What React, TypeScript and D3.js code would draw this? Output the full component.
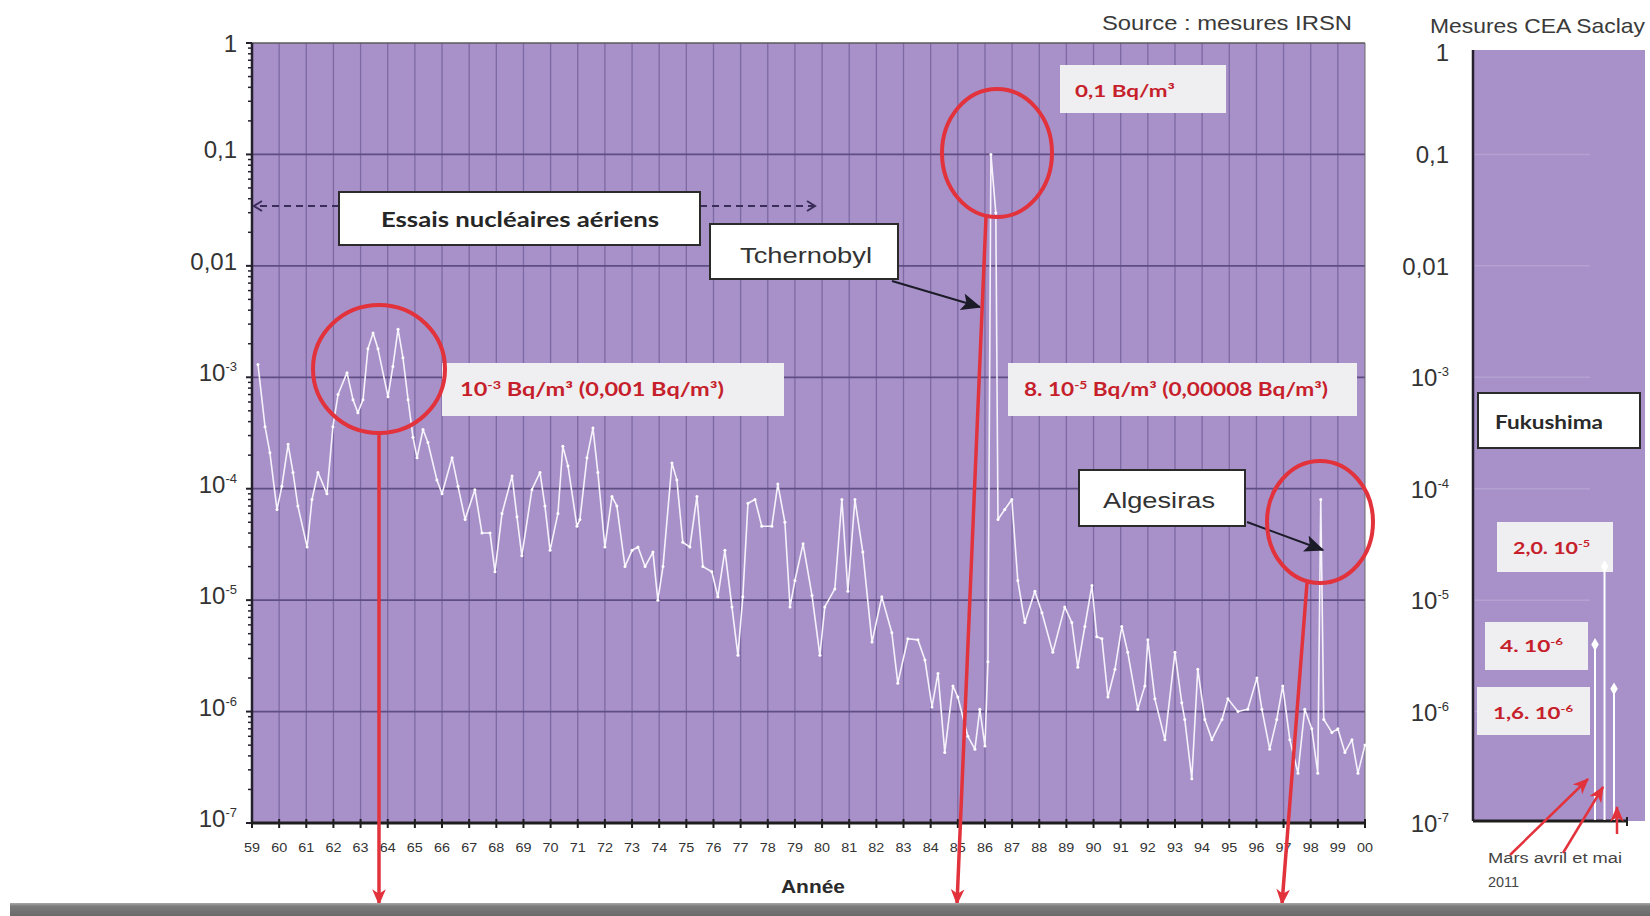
import React from "react";
import * as d3 from "d3";

// IRSN Cs-137 air activity (Bq/m³), turning points of the monthly curve
const irsnYears = [
  1959.22, 1959.48, 1959.66, 1959.92, 1960.1, 1960.33, 1960.51, 1960.69, 1961.03, 1961.21,
  1961.43, 1961.76, 1961.98, 1962.17, 1962.5, 1962.72, 1962.9, 1963.09, 1963.27, 1963.46,
  1963.64, 1964.01, 1964.19, 1964.38, 1964.56, 1964.75, 1964.93, 1965.08, 1965.3, 1965.48,
  1965.81, 1966.0, 1966.37, 1966.59, 1966.85, 1967.21, 1967.47, 1967.77, 1967.95, 1968.21,
  1968.58, 1968.76, 1968.94, 1969.31, 1969.61, 1969.79, 1969.98, 1970.27, 1970.45, 1970.64,
  1970.97, 1971.08, 1971.34, 1971.56, 1971.74, 1972.0, 1972.26, 1972.44, 1972.74, 1973.0,
  1973.22, 1973.48, 1973.77, 1973.95, 1974.14, 1974.47, 1974.65, 1974.87, 1975.13, 1975.39,
  1975.61, 1975.94, 1976.16, 1976.42, 1976.68, 1976.9, 1977.08, 1977.27, 1977.53, 1977.78,
  1978.15, 1978.37, 1978.63, 1978.82, 1979.0, 1979.3, 1979.63, 1979.92, 1980.1, 1980.47,
  1980.73, 1980.95, 1981.21, 1981.5, 1981.84, 1982.2, 1982.57, 1982.79, 1983.16, 1983.53,
  1983.79, 1984.05, 1984.27, 1984.52, 1984.82, 1985.0, 1985.37, 1985.63, 1985.81, 1986.0,
  1986.11, 1986.22, 1986.4, 1986.48, 1986.73, 1986.99, 1987.21, 1987.47, 1987.84, 1988.1,
  1988.5, 1988.94, 1989.2, 1989.42, 1989.68, 1989.94, 1990.12, 1990.31, 1990.53, 1990.79,
  1991.04, 1991.26, 1991.63, 1991.89, 1992.0, 1992.26, 1992.63, 1993.0, 1993.25, 1993.36,
  1993.62, 1993.84, 1994.1, 1994.36, 1994.73, 1994.95, 1995.32, 1995.68, 1996.02, 1996.2,
  1996.49, 1996.75, 1996.97, 1997.23, 1997.53, 1997.78, 1998.04, 1998.26, 1998.37, 1998.48,
  1998.78, 1999.0, 1999.26, 1999.52, 1999.74, 2000.0,
];
const irsnValues = [
  1.3e-3, 3.6e-4, 2.1e-4, 6.5e-5, 1.05e-4, 2.5e-4, 1.4e-4, 7e-5, 3e-5, 8e-5,
  1.4e-4, 9e-5, 3.6e-4, 7e-4, 1.1e-3, 6.3e-4, 4.8e-4, 6.3e-4, 1.8e-3, 2.5e-3,
  1.8e-3, 6.7e-4, 1.25e-3, 2.7e-3, 1.5e-3, 6.3e-4, 2.9e-4, 1.9e-4, 3.4e-4, 2.6e-4,
  1.2e-4, 9e-5, 1.9e-4, 1.05e-4, 5.3e-5, 9.8e-5, 4e-5, 4e-5, 1.8e-5, 6e-5,
  1.3e-4, 5.6e-5, 2.5e-5, 9.8e-5, 1.4e-4, 7e-5, 2.8e-5, 6e-5, 2.4e-4, 1.6e-4,
  4.6e-5, 5.3e-5, 1.9e-4, 3.5e-4, 1.4e-4, 3e-5, 8.5e-5, 7e-5, 2e-5, 2.8e-5,
  3e-5, 2e-5, 2.7e-5, 1e-5, 2e-5, 1.7e-4, 1.2e-4, 3.3e-5, 3e-5, 8.5e-5,
  2e-5, 1.8e-5, 1.07e-5, 2.8e-5, 8.7e-6, 3.2e-6, 1.07e-5, 7.4e-5, 8e-5, 4.6e-5,
  4.6e-5, 1.1e-4, 5e-5, 8.7e-6, 1.5e-5, 3.2e-5, 1.1e-5, 3.2e-6, 8.7e-6, 1.26e-5,
  8e-5, 1.2e-5, 8e-5, 2.7e-5, 4.2e-6, 1.07e-5, 5.1e-6, 1.8e-6, 4.5e-6, 4.4e-6,
  2.9e-6, 1.1e-6, 2.2e-6, 4.3e-7, 1.7e-6, 1.35e-6, 6e-7, 4.6e-7, 1.05e-6, 4.9e-7,
  2.8e-6, 0.1, 0.03, 5.3e-5, 6.5e-5, 8e-5, 1.5e-5, 6.3e-6, 1.2e-5, 7.7e-6,
  3.4e-6, 8.7e-6, 6.3e-6, 2.5e-6, 5.8e-6, 1.35e-5, 4.7e-6, 4.5e-6, 1.35e-6, 2.4e-6,
  5.8e-6, 3.4e-6, 1.05e-6, 1.7e-6, 4.4e-6, 1.3e-6, 5.6e-7, 3.4e-6, 1.2e-6, 8.5e-7,
  2.5e-7, 2.4e-6, 8.5e-7, 5.6e-7, 8.5e-7, 1.3e-6, 1e-6, 1.05e-6, 2e-6, 1.05e-6,
  4.6e-7, 8.5e-7, 1.7e-6, 5.6e-7, 2.8e-7, 1.05e-6, 7e-7, 2.8e-7, 8e-5, 8.5e-7,
  6.5e-7, 7e-7, 4.3e-7, 5.6e-7, 2.8e-7, 5e-7,
];

const yearTicks = d3.range(1959, 2001);
const decadeValues = [1, 0.1, 0.01, 1e-3, 1e-4, 1e-5, 1e-6, 1e-7];
const decadeBases = ["1", "0,1", "0,01", "10", "10", "10", "10", "10"];
const decadeExponents = ["", "", "", "-3", "-4", "-5", "-6", "-7"];

// CEA Saclay, March / April / May 2011 (month number)
const fukushimaMonths = [3, 4, 5];
const fukushimaValues = [4e-6, 2.0e-5, 1.6e-6];

const PURPLE = "#a891c9";
const GRID_H = "#5f4e82";
const GRID_V = "#7d69a3";
const RED = "#e2323c";
const RED_TEXT = "#c61f2b";
const BOX_GREY = "#efeef1";
const INK = "#333333";
const SANS = "'Liberation Sans', Arial, sans-serif";
const CAL = "Lato, 'Open Sans', sans-serif";

export default function App() {
  const X0 = 252, X1 = 1365, YT = 43, YB = 823;
  const x = d3.scaleLinear().domain([1959, 2000]).range([X0, X1]);
  const y = d3.scaleLog().domain([1e-7, 1]).range([YB, YT]);

  const RX0 = 1473, RX1 = 1645, RYT = 50, RYB = 821;
  const xF = d3.scaleLinear().domain([-9.84, 8.26]).range([RX0, RX1]);

  const pts = irsnYears.map((t, i) => [t, irsnValues[i]] as [number, number]);
  const linePath = d3
    .line<[number, number]>()
    .x((d) => x(d[0]))
    .y((d) => y(d[1]))(pts) as string;

  const minorTicks: number[] = [];
  for (let e = -7; e < 0; e++) for (let k = 2; k < 10; k++) minorTicks.push(k * Math.pow(10, e));

  const diamond = d3.symbol().type(d3.symbolDiamond).size(48)() as string;

  const decadeLabel = (i: number, xr: number, yc: number, key: string) => (
    <text key={key} x={xr} y={yc + 8} textAnchor="end" fontFamily={SANS} fontSize={24} fill={INK}>
      {decadeBases[i]}
      {decadeExponents[i] && (
        <tspan fontSize={13} dy={-10}>
          {decadeExponents[i]}
        </tspan>
      )}
    </text>
  );

  return (
    <svg
      width={1650}
      height={916}
      viewBox="0 0 1650 916"
      style={{ position: "absolute", left: 0, top: 0, display: "block", background: "#fff" }}
    >
      <defs>
        <marker id="redHead" viewBox="0 0 14 12" refX={13} refY={6} markerWidth={16} markerHeight={14} markerUnits="userSpaceOnUse" orient="auto">
          <path d="M0,0 L14,6 L0,12 L4,6 Z" fill={RED} />
        </marker>
        <marker id="blackHead" viewBox="0 0 14 12" refX={13} refY={6} markerWidth={20} markerHeight={17} markerUnits="userSpaceOnUse" orient="auto">
          <path d="M0,0 L14,6 L0,12 L3,6 Z" fill="#1c1c28" />
        </marker>
        <marker id="chevron" viewBox="0 0 12 12" refX={10} refY={6} markerWidth={12} markerHeight={12} markerUnits="userSpaceOnUse" orient="auto">
          <path d="M2,1 L10,6 L2,11" fill="none" stroke="#3b2d5a" strokeWidth={2} />
        </marker>
        <linearGradient id="band" x1="0" y1="0" x2="0" y2="1">
          <stop offset="0" stopColor="#a8a8a8" />
          <stop offset="0.25" stopColor="#7a7a7a" />
          <stop offset="1" stopColor="#6a6a6a" />
        </linearGradient>
      </defs>

      {/* ---------- main IRSN panel ---------- */}
      <rect x={X0} y={YT} width={X1 - X0} height={YB - YT} fill={PURPLE} />
      {yearTicks.slice(1, -1).map((t) => (
        <line key={"vg" + t} x1={x(t)} x2={x(t)} y1={YT} y2={YB} stroke={GRID_V} strokeWidth={1.3} />
      ))}
      {decadeValues.slice(1, -1).map((v) => (
        <line key={"hg" + v} x1={X0} x2={X1} y1={y(v)} y2={y(v)} stroke={GRID_H} strokeWidth={1.8} />
      ))}
      <line x1={X0} x2={X1} y1={YT} y2={YT} stroke="#5a5a5a" strokeWidth={1.5} />
      <line x1={X1} x2={X1} y1={YT} y2={YB} stroke="#6a6a6a" strokeWidth={1} />

      {/* measured curve */}
      <path d={linePath} fill="none" stroke="#f6f2fb" strokeWidth={1.6} strokeLinejoin="round" />
      {pts.map((d, i) => (
        <circle key={"p" + i} cx={x(d[0])} cy={y(d[1])} r={1.5} fill="#ffffff" />
      ))}

      {/* axes */}
      <line x1={X0} x2={X0} y1={YT} y2={YB} stroke="#24202e" strokeWidth={2.5} />
      {minorTicks.map((v, i) => (
        <line key={"mt" + i} x1={X0 - 4} x2={X0} y1={y(v)} y2={y(v)} stroke="#24202e" strokeWidth={1.5} />
      ))}
      {decadeValues.map((v) => (
        <line key={"mj" + v} x1={X0 - 6} x2={X0} y1={y(v)} y2={y(v)} stroke="#24202e" strokeWidth={2} />
      ))}
      <line x1={X0} x2={X1} y1={YB} y2={YB} stroke="#1e1e1e" strokeWidth={3} />
      {yearTicks.map((t) => (
        <line key={"xt" + t} x1={x(t)} x2={x(t)} y1={YB - 4} y2={YB + 5} stroke="#1e1e1e" strokeWidth={2} />
      ))}
      {yearTicks.map((t) => (
        <text
          key={"xl" + t}
          x={x(t)}
          y={852}
          textAnchor="middle"
          fontFamily={SANS}
          fontSize={13}
          fill={INK}
          textLength={16}
          lengthAdjust="spacingAndGlyphs"
        >
          {String(t % 100).padStart(2, "0")}
        </text>
      ))}
      {decadeValues.map((v, i) => decadeLabel(i, 237, i === 0 ? 44 : y(v) - 4, "yl" + i))}

      <text x={813} y={893} textAnchor="middle" fontFamily={SANS} fontWeight={700} fontSize={19} fill="#2a2a2a" textLength={64} lengthAdjust="spacingAndGlyphs">
        Année
      </text>

      <text x={1102} y={30} fontFamily={SANS} fontSize={20} fill="#3a3a3a" textLength={250} lengthAdjust="spacingAndGlyphs">
        Source : mesures IRSN
      </text>

      {/* atmospheric tests */}
      <line x1={339} x2={254} y1={206} y2={206} stroke="#3b2d5a" strokeWidth={2.2} strokeDasharray="7,5" markerEnd="url(#chevron)" />
      <line x1={700} x2={815} y1={206} y2={206} stroke="#3b2d5a" strokeWidth={2.2} strokeDasharray="7,5" markerEnd="url(#chevron)" />
      <rect x={339} y={192} width={361} height={53} fill="#ffffff" stroke="#2b2b2b" strokeWidth={2} />
      <text x={381} y={227} fontFamily={CAL} fontWeight={700} fontSize={21} fill="#262626" textLength={278} lengthAdjust="spacingAndGlyphs">
        Essais nucléaires aériens
      </text>

      {/* Tchernobyl */}
      <rect x={710} y={224} width={188} height={55} fill="#ffffff" stroke="#2b2b2b" strokeWidth={2} />
      <text x={740} y={263} fontFamily={SANS} fontSize={22} fill={INK} textLength={132} lengthAdjust="spacingAndGlyphs">
        Tchernobyl
      </text>
      <line x1={892} y1={281} x2={980} y2={307} stroke="#1c1c28" strokeWidth={2} markerEnd="url(#blackHead)" />

      <rect x={1060} y={65} width={166} height={48} fill={BOX_GREY} />
      <text x={1075} y={97} fontFamily={CAL} fontWeight={700} fontSize={17} fill={RED_TEXT} textLength={100} lengthAdjust="spacingAndGlyphs">
        0,1 Bq/m³
      </text>

      {/* value boxes */}
      <rect x={442} y={363} width={342} height={53} fill={BOX_GREY} />
      <text x={460} y={396} fontFamily={CAL} fontWeight={700} fontSize={18} fill={RED_TEXT} textLength={264} lengthAdjust="spacingAndGlyphs">
        10<tspan fontSize={11} dy={-7}>-3</tspan>
        <tspan dy={7}> Bq/m³ (0,001 Bq/m³)</tspan>
      </text>
      <rect x={1008} y={363} width={349} height={53} fill={BOX_GREY} />
      <text x={1024} y={396} fontFamily={CAL} fontWeight={700} fontSize={18} fill={RED_TEXT} textLength={304} lengthAdjust="spacingAndGlyphs">
        8. 10<tspan fontSize={11} dy={-7}>-5</tspan>
        <tspan dy={7}> Bq/m³ (0,00008 Bq/m³)</tspan>
      </text>

      {/* Algesiras */}
      <rect x={1079} y={470} width={166} height={56} fill="#ffffff" stroke="#2b2b2b" strokeWidth={2} />
      <text x={1103} y={508} fontFamily={SANS} fontSize={22} fill={INK} textLength={112} lengthAdjust="spacingAndGlyphs">
        Algesiras
      </text>
      <line x1={1247} y1={522} x2={1323} y2={550} stroke="#1c1c28" strokeWidth={2} markerEnd="url(#blackHead)" />

      {/* highlight circles and arrows */}
      <ellipse cx={379} cy={369} rx={66} ry={64} fill="none" stroke={RED} strokeWidth={4} />
      <ellipse cx={997} cy={153} rx={55} ry={64} fill="none" stroke={RED} strokeWidth={4} />
      <ellipse cx={1320} cy={522} rx={53} ry={61} fill="none" stroke={RED} strokeWidth={4} />
      <line x1={379} y1={433} x2={379} y2={904} stroke={RED} strokeWidth={3.5} markerEnd="url(#redHead)" />
      <line x1={986} y1={217} x2={957} y2={904} stroke={RED} strokeWidth={3.5} markerEnd="url(#redHead)" />
      <line x1={1307} y1={583} x2={1282} y2={904} stroke={RED} strokeWidth={3.5} markerEnd="url(#redHead)" />

      {/* ---------- CEA Saclay panel ---------- */}
      <text x={1430} y={33} fontFamily={SANS} fontSize={21} fill="#3a3a3a" textLength={215} lengthAdjust="spacingAndGlyphs">
        Mesures CEA Saclay
      </text>
      <rect x={RX0} y={RYT} width={RX1 - RX0} height={RYB - RYT} fill={PURPLE} />
      {decadeValues.slice(1, -1).map((v) => (
        <line key={"fg" + v} x1={RX0} x2={1590} y1={y(v)} y2={y(v)} stroke="#ffffff" strokeOpacity={0.15} strokeWidth={1.5} />
      ))}
      <line x1={RX0} x2={RX0} y1={RYT} y2={RYB} stroke="#24202e" strokeWidth={2.5} />
      <line x1={RX0} x2={1628} y1={RYB} y2={RYB} stroke="#1e1e1e" strokeWidth={3} />
      <line x1={1627} x2={1627} y1={RYB - 4} y2={RYB + 5} stroke="#1e1e1e" strokeWidth={2} />
      {decadeValues.map((v, i) => decadeLabel(i, 1449, i === 0 ? 53 : y(v) + 1, "fl" + i))}

      <rect x={1478} y={393} width={162} height={55} fill="#ffffff" stroke="#2b2b2b" strokeWidth={2} />
      <text x={1495} y={429} fontFamily={CAL} fontWeight={700} fontSize={19} fill="#2a2a2a" textLength={108} lengthAdjust="spacingAndGlyphs">
        Fukushima
      </text>

      <rect x={1497} y={522} width={116} height={50} fill={BOX_GREY} />
      <text x={1513} y={554} fontFamily={CAL} fontWeight={700} fontSize={17} fill={RED_TEXT} textLength={77} lengthAdjust="spacingAndGlyphs">
        2,0. 10<tspan fontSize={10} dy={-7}>-5</tspan>
      </text>
      <rect x={1485} y={622} width={103} height={48} fill={BOX_GREY} />
      <text x={1500} y={652} fontFamily={CAL} fontWeight={700} fontSize={17} fill={RED_TEXT} textLength={63} lengthAdjust="spacingAndGlyphs">
        4. 10<tspan fontSize={10} dy={-7}>-6</tspan>
      </text>
      <rect x={1477} y={687} width={113} height={48} fill={BOX_GREY} />
      <text x={1493} y={719} fontFamily={CAL} fontWeight={700} fontSize={17} fill={RED_TEXT} textLength={80} lengthAdjust="spacingAndGlyphs">
        1,6. 10<tspan fontSize={10} dy={-7}>-6</tspan>
      </text>

      {fukushimaMonths.map((m, i) => (
        <g key={"fk" + m}>
          <line x1={xF(m)} x2={xF(m)} y1={y(fukushimaValues[i])} y2={RYB - 1} stroke="#ffffff" strokeWidth={2} />
          <path d={diamond} transform={`translate(${xF(m)},${y(fukushimaValues[i])})`} fill="#ffffff" />
        </g>
      ))}

      <line x1={1510} y1={855} x2={1588} y2={779} stroke={RED} strokeWidth={2.5} markerEnd="url(#redHead)" />
      <line x1={1563} y1={853} x2={1603} y2={787} stroke={RED} strokeWidth={2.5} markerEnd="url(#redHead)" />
      <line x1={1617} y1={834} x2={1617} y2={807} stroke={RED} strokeWidth={2.5} markerEnd="url(#redHead)" />
      <text x={1488} y={863} fontFamily={SANS} fontSize={14} fill="#444" textLength={134} lengthAdjust="spacingAndGlyphs">
        Mars avril et mai
      </text>
      <text x={1488} y={887} fontFamily={SANS} fontSize={14} fill="#444" textLength={31} lengthAdjust="spacingAndGlyphs">
        2011
      </text>

      {/* bottom band */}
      <rect x={10} y={903} width={1640} height={13} fill="url(#band)" />
    </svg>
  );
}
